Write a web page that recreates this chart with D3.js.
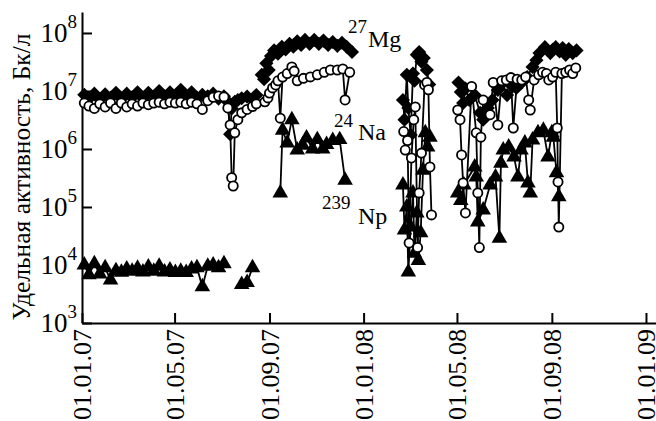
<!DOCTYPE html>
<html>
<head>
<meta charset="utf-8">
<script src="https://cdn.jsdelivr.net/npm/d3@7"></script>
<style>
  body { margin: 0; background: #fff; }
</style>
</head>
<body>
<svg id="chart" width="656" height="421"></svg>
<script>
// --- data (dd.mm.yy), null = no measurement / break in line ---
const xTickLabels = ["01.01.07", "01.05.07", "01.09.07", "01.01.08", "01.05.08", "01.09.08", "01.01.09"];
const yTickValues = [1e3, 1e4, 1e5, 1e6, 1e7, 1e8];

const mgDates = [
  "04.01.07","10.01.07","17.01.07","24.01.07","31.01.07","07.02.07","14.02.07","21.02.07","28.02.07","07.03.07",
  "14.03.07","21.03.07","28.03.07","04.04.07","11.04.07","18.04.07","25.04.07","02.05.07","09.05.07","16.05.07",
  "23.05.07","30.05.07","06.06.07","13.06.07","20.06.07","27.06.07","04.07.07","09.07.07","12.07.07","14.07.07",
  "16.07.07","18.07.07","22.07.07","27.07.07","03.08.07","10.08.07","15.08.07",
  "19.08.07",
  "22.08.07","25.08.07","28.08.07","31.08.07","03.09.07","07.09.07","12.09.07","17.09.07","22.09.07","27.09.07",
  "02.10.07","07.10.07","12.10.07","17.10.07","23.10.07","29.10.07","04.11.07","10.11.07","16.11.07","22.11.07",
  "28.11.07","04.12.07","10.12.07","17.12.07",
  "01.02.08",
  "21.02.08","23.02.08","26.02.08","28.02.08","02.03.08","05.03.08","07.03.08","10.03.08","13.03.08","16.03.08",
  "19.03.08","23.03.08","26.03.08",
  "15.04.08",
  "03.05.08","06.05.08","09.05.08","12.05.08","17.05.08","24.05.08","31.05.08","04.06.08","10.06.08","16.06.08",
  "23.06.08","29.06.08","05.07.08","12.07.08","17.07.08","24.07.08","31.07.08","07.08.08","12.08.08","16.08.08",
  "23.08.08","30.08.08","02.09.08","06.09.08","11.09.08","15.09.08","19.09.08","23.09.08","28.09.08","03.10.08"
];
const mgValues = [
  8.6e6,7.4e6,9.0e6,7.2e6,8.8e6,7.6e6,9.3e6,7.4e6,9.0e6,7.8e6,
  9.5e6,7.6e6,9.3e6,7.9e6,1.0e7,8.1e6,9.5e6,7.8e6,1.05e7,8.1e6,
  9.5e6,7.6e6,8.6e6,8.1e6,9.0e6,7.4e6,8.1e6,6.5e6,1.8e6,5.0e6,
  6.0e6,6.5e6,7.0e6,7.5e6,8.0e6,7.2e6,8.5e6,
  null,
  1.9e7,1.6e7,3.0e7,2.3e7,4.0e7,5.0e7,4.4e7,5.8e7,5.2e7,6.5e7,
  5.8e7,7.2e7,6.2e7,7.6e7,6.5e7,7.6e7,6.5e7,7.4e7,6.2e7,7.0e7,
  6.0e7,6.8e7,5.8e7,4.7e7,
  null,
  7.0e6,3.2e6,1.9e7,5.1e6,1.75e6,2.0e7,1.5e7,4.2e7,4.7e7,3.2e7,
  3.7e7,2.3e7,1.3e7,
  null,
  1.4e7,9.6e6,6.2e6,1.1e7,7.0e6,8.5e6,4.2e6,3.2e6,5.1e6,7.0e6,
  1.04e7,1.37e7,8.5e6,1.2e7,1.13e7,1.4e7,1.74e7,2.6e7,3.4e7,4.5e7,
  5.7e7,4.5e7,5.1e7,5.7e7,4.8e7,5.5e7,4.2e7,5.3e7,4.5e7,5.0e7
];

const naDates = [
  "04.01.07","10.01.07","17.01.07","24.01.07","31.01.07","07.02.07","14.02.07","21.02.07","28.02.07","07.03.07",
  "14.03.07","21.03.07","28.03.07","04.04.07","11.04.07","18.04.07","25.04.07","02.05.07","09.05.07","16.05.07",
  "23.05.07","30.05.07","06.06.07","13.06.07","20.06.07","27.06.07","04.07.07","09.07.07","12.07.07","14.07.07",
  "16.07.07","18.07.07","22.07.07","27.07.07","03.08.07","10.08.07","15.08.07",
  "19.08.07",
  "26.08.07","30.08.07","01.09.07","05.09.07","09.09.07","12.09.07","15.09.07","18.09.07","24.09.07","30.09.07",
  "03.10.07","07.10.07","15.10.07","24.10.07","02.11.07","11.11.07","19.11.07","28.11.07","05.12.07","08.12.07",
  "14.12.07",
  "01.02.08",
  "22.02.08","24.02.08","27.02.08","29.02.08","03.03.08","06.03.08","08.03.08","11.03.08","13.03.08","16.03.08",
  "20.03.08","23.03.08","25.03.08","27.03.08","29.03.08",
  "15.04.08",
  "02.05.08","05.05.08","07.05.08","09.05.08","12.05.08","20.05.08","26.05.08","28.05.08","30.05.08","01.06.08",
  "04.06.08","13.06.08","17.06.08","23.06.08","28.06.08","04.07.08","10.07.08","13.07.08","18.07.08","24.07.08",
  "29.07.08","02.08.08","04.08.08","09.08.08","15.08.08","20.08.08","25.08.08","28.08.08","02.09.08","06.09.08",
  "08.09.08","09.09.08","10.09.08","14.09.08","19.09.08","24.09.08","28.09.08","02.10.08"
];
const naValues = [
  6.2e6,5.5e6,5.0e6,6.0e6,5.3e6,6.2e6,5.0e6,6.2e6,5.3e6,6.0e6,
  5.5e6,6.2e6,5.8e6,6.2e6,6.4e6,6.0e6,6.4e6,6.2e6,6.4e6,6.0e6,
  6.4e6,6.0e6,4.8e6,6.8e6,7.8e6,8.2e6,7.9e6,5.1e6,2.6e6,3.2e5,
  2.3e5,1.9e6,3.2e6,4.2e6,4.8e6,5.4e6,6.0e6,
  null,
  6.5e6,7.6e6,9.2e6,1.13e7,1.27e7,1.5e7,3.4e6,1.74e7,2.0e7,2.6e7,
  2.2e7,1.5e7,1.65e7,1.75e7,1.9e7,2.1e7,2.3e7,2.3e7,2.4e7,7.0e6,
  2.1e7,
  null,
  2.0e6,9.6e5,1.4e6,2.4e4,7.0e5,3.2e6,5.3e6,2.0e4,1.75e5,8.5e5,
  1.27e7,1.4e7,1.05e7,4.9e5,7.3e4,
  null,
  4.7e6,3.2e6,7.9e5,2.6e5,7.9e4,1.2e7,1.9e6,1.75e5,2.0e4,1.6e6,
  7.0e6,3.9e6,1.4e7,2.6e6,1.5e7,1.55e7,1.7e7,2.3e6,1.6e7,1.55e7,
  1.74e7,7.0e6,4.7e6,1.55e7,1.9e7,2.1e7,2.0e7,1.55e7,1.74e7,2.1e7,
  2.3e6,2.7e5,4.5e4,2.0e7,2.1e7,2.3e7,2.0e7,2.5e7
];

const npDates = [
  "04.01.07","10.01.07","17.01.07","24.01.07","31.01.07","07.02.07","14.02.07","21.02.07","28.02.07","07.03.07",
  "14.03.07","21.03.07","28.03.07","04.04.07","11.04.07","18.04.07","25.04.07","02.05.07","09.05.07","16.05.07",
  "23.05.07","30.05.07","06.06.07","13.06.07","20.06.07","27.06.07","04.07.07","15.07.07","27.07.07","03.08.07",
  "10.08.07",
  "19.08.07",
  "15.09.07","18.09.07","24.09.07","30.09.07","07.10.07","14.10.07","19.10.07","27.10.07","02.11.07","09.11.07",
  "14.11.07","22.11.07","01.12.07","08.12.07",
  "01.02.08",
  "21.02.08","23.02.08","26.02.08","28.02.08","02.03.08","05.03.08","07.03.08","10.03.08","12.03.08","15.03.08",
  "18.03.08","21.03.08","24.03.08","27.03.08",
  "15.04.08",
  "02.05.08","06.05.08","10.05.08","24.05.08","26.05.08","28.05.08","04.06.08","13.06.08","20.06.08","25.06.08",
  "27.06.08","30.06.08","07.07.08","14.07.08","19.07.08","23.07.08","28.07.08","01.08.08","04.08.08","07.08.08",
  "14.08.08","21.08.08","27.08.08","01.09.08","03.09.08","07.09.08","10.09.08"
];
const npValues = [
  1.0e4,6.8e3,1.05e4,7.0e3,9.0e3,5.5e3,8.0e3,7.5e3,8.5e3,7.8e3,
  8.8e3,7.6e3,9.2e3,7.8e3,9.5e3,7.6e3,8.2e3,7.4e3,7.8e3,7.4e3,
  8.5e3,9.0e3,4.2e3,9.5e3,1.0e4,9.0e3,1.05e4,null,4.6e3,5.0e3,
  9.0e3,
  null,
  1.75e5,2.1e6,1.27e6,3.2e6,9.6e5,1.16e6,1.55e6,1.0e6,1.45e6,1.0e6,
  1.2e6,1.4e6,1.45e6,2.9e5,
  null,
  2.4e5,4.0e4,1.0e5,7.6e3,4.5e4,1.75e5,1.6e4,7.9e4,1.2e4,3.6e4,
  4.3e5,1.9e6,1.08e6,1.6e6,
  null,
  1.75e5,1.3e5,2.4e5,4.9e5,3.3e5,5.5e4,8.9e4,2.4e5,3.3e5,2.9e4,
  5.7e5,9.6e5,1.08e6,7.3e5,3.3e5,9.6e5,1.27e6,2.6e5,1.75e5,1.43e6,
  1.9e6,2.1e6,7.3e5,1.9e6,1.6e6,3.9e5,1.5e5
];

// --- setup ---
const serif = "'Liberation Serif', 'DejaVu Serif', serif";
const parse = d3.timeParse("%d.%m.%y");
const fmt = d3.timeFormat("%d.%m.%y");
const svg = d3.select("#chart");
const width = 656, height = 421;
const plotLeft = 82, plotBottom = 323, plotTop = 12;

const x = d3.scaleTime()
  .domain([parse("01.01.07"), parse("14.01.09")])
  .range([plotLeft, width]);
const y = d3.scaleLog()
  .domain([1e3, 2.3e8])
  .range([plotBottom, plotTop]);

const rows = (dates, values) => dates.map((d, i) => ({ date: parse(d), value: values[i] }));
const mg = rows(mgDates, mgValues);
const na = rows(naDates, naValues);
const np = rows(npDates, npValues);

// --- axes ---
const xAxis = svg.append("g")
  .attr("transform", "translate(0," + plotBottom + ")")
  .call(d3.axisBottom(x)
    .tickValues(xTickLabels.map(parse))
    .tickFormat(fmt)
    .tickSizeInner(-10)
    .tickSizeOuter(0));
xAxis.selectAll("text")
  .attr("transform", "rotate(-90)")
  .attr("x", -6)
  .attr("y", 0)
  .attr("dy", "0.33em")
  .style("text-anchor", "end")
  .style("font-family", serif)
  .style("font-size", "26px");

const yAxis = svg.append("g")
  .attr("transform", "translate(" + plotLeft + ",0)")
  .call(d3.axisLeft(y)
    .tickValues(yTickValues)
    .tickFormat("")
    .tickSizeInner(-10)
    .tickSizeOuter(0));
yAxis.selectAll(".tick text").remove();
yAxis.selectAll(".tick").append("text")
  .attr("x", -5)
  .attr("dy", "0.33em")
  .attr("fill", "#000")
  .style("text-anchor", "end")
  .style("font-family", serif)
  .style("font-size", "27px")
  .each(function (d) {
    const t = d3.select(this);
    t.append("tspan").text("10");
    t.append("tspan").attr("dy", -14).style("font-size", "19px").text(Math.round(Math.log10(d)));
  });

svg.selectAll(".domain, .tick line")
  .attr("stroke", "#000")
  .attr("stroke-width", 2);

svg.append("text")
  .attr("transform", "translate(30," + 177 + ") rotate(-90)")
  .style("text-anchor", "middle")
  .style("font-family", serif)
  .style("font-size", "25.5px")
  .text("Удельная активность, Бк/л");

// --- lines ---
const line = d3.line()
  .defined(d => d.value != null)
  .x(d => x(d.date))
  .y(d => y(d.value));

[np, mg, na].forEach(s => {
  svg.append("path")
    .datum(s)
    .attr("fill", "none")
    .attr("stroke", "#000")
    .attr("stroke-width", 1.8)
    .attr("d", line);
});

// --- markers ---
svg.append("g").selectAll("path")
  .data(np.filter(d => d.value != null))
  .join("path")
  .attr("d", d3.symbol(d3.symbolTriangle, 105))
  .attr("transform", d => "translate(" + x(d.date) + "," + y(d.value) + ")")
  .attr("fill", "#000");

svg.append("g").selectAll("path")
  .data(mg.filter(d => d.value != null))
  .join("path")
  .attr("d", d3.symbol(d3.symbolSquare, 100))
  .attr("transform", d => "translate(" + x(d.date) + "," + y(d.value) + ") rotate(45)")
  .attr("fill", "#000");

svg.append("g").selectAll("circle")
  .data(na.filter(d => d.value != null))
  .join("circle")
  .attr("cx", d => x(d.date))
  .attr("cy", d => y(d.value))
  .attr("r", 4.6)
  .attr("fill", "#fff")
  .attr("stroke", "#000")
  .attr("stroke-width", 1.8);

// --- isotope labels ---
const labels = [
  { mass: "27", name: "Mg", mx: 348, my: 33, nx: 368, ny: 47 },
  { mass: "24", name: "Na", mx: 334, my: 127, nx: 358, ny: 140 },
  { mass: "239", name: "Np", mx: 322, my: 209, nx: 358, ny: 224 }
];
labels.forEach(l => {
  svg.append("text").attr("x", l.mx).attr("y", l.my)
    .style("font-family", serif).style("font-size", "19px").text(l.mass);
  svg.append("text").attr("x", l.nx).attr("y", l.ny)
    .style("font-family", serif).style("font-size", "24px").text(l.name);
});
</script>
</body>
</html>
